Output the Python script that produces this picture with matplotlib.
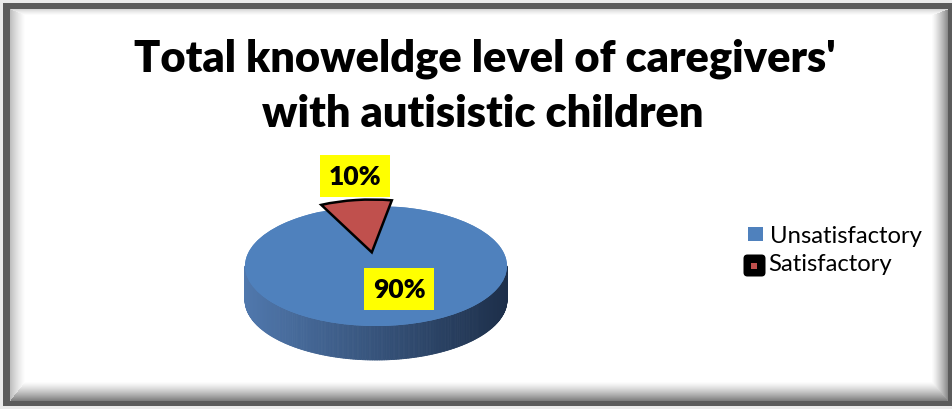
import numpy as np
import matplotlib
matplotlib.use("Agg")
import matplotlib.pyplot as plt
from matplotlib.collections import PolyCollection
from matplotlib.patches import Ellipse, Rectangle, FancyBboxPatch
from matplotlib.colors import to_rgb

# ---- data ----
categories = ["Unsatisfactory", "Satisfactory"]
percentages = [90, 10]
slice_colors = ["#4f81bd", "#c0504d"]
title_lines = ["Total knoweldge level of caregivers'", "with autisistic children"]

# ---- layout (pixels) ----
W, H = 953, 410
CX, CY = 376, 267        # centre of the pie top face
RX, RY = 131, 60         # radii of the pie top face
DEPTH = 34               # thickness of the pie
FONT = "Lato"

fig = plt.figure(figsize=(W / 100, H / 100), dpi=100)


def frame_image():
    """Grey bevelled chart border."""
    yy, xx = np.mgrid[0:H, 0:W].astype(float)
    t = np.stack([
        1 - (xx - 10) / 15,      # left
        1 - (yy - 10) / 6,       # top
        1 - (947 - xx) / 16,     # right
        1 - (401 - yy) / 19,     # bottom
    ])
    t = np.clip(t, 0, 1)
    side = t.argmax(axis=0)
    tmax = t.max(axis=0)
    dark = np.array([0.25, 0.15, 0.45, 0.5])[side]
    val = 1 - dark * tmax ** 1.3
    band = (((xx >= 3) & (xx < 10)) | ((yy >= 4) & (yy < 10)) |
            ((yy >= 402) & (yy < 407)) | ((xx >= 948) & (xx < 953)))
    band &= (xx >= 3) & (yy >= 4) & (yy < 407)
    val[band] = 0.36
    outside = (xx < 3) | (yy < 4) | (yy >= 407)
    val[outside] = 0.92
    return np.dstack([val, val, val])


fig.figimage(frame_image(), 0, 0, origin="upper", zorder=-5)

# ---- pie axes: one data unit = one radius of the top face ----
ax = fig.add_axes([0, 0, 1, 1])
ax.patch.set_alpha(0)

wedges, _ = ax.pie(percentages, colors=slice_colors, startangle=80,
                   counterclock=False, explode=[0, 0.23], radius=1,
                   center=(0, 0), wedgeprops=dict(linewidth=0))
# the detached slice sits further back, so it is drawn a little smaller
wedges[1].set_radius(0.88)
wedges[1].set_edgecolor("black")
wedges[1].set_linewidth(1.8)
for w in wedges:
    w.set_zorder(3)

ax.set_aspect("auto")
ax.set_xlim(-CX / RX, (W - CX) / RX)
ax.set_ylim((CY - H) / RY, CY / RY)
ax.axis("off")

# pie body under the top face
ax.add_patch(Ellipse((0, 0), 2, 2, facecolor=slice_colors[0],
                     edgecolor="none", zorder=2))

# front side wall with shading
d = DEPTH / RY
th = np.linspace(np.pi, 2 * np.pi, 241)
left_c = np.array(to_rgb("#5078ad"))
right_c = np.array(to_rgb("#1d2f4a"))
quads, cols = [], []
for a0, a1 in zip(th[:-1], th[1:]):
    x0, x1 = np.cos(a0), np.cos(a1)
    y0, y1 = np.sin(a0), np.sin(a1)
    quads.append([(x0, y0), (x1, y1), (x1, y1 - d), (x0, y0 - d)])
    f = ((x0 + x1) / 2 + 1) / 2
    cols.append(left_c * (1 - f) + right_c * f)
ax.add_collection(PolyCollection(quads, facecolors=cols, edgecolors=cols,
                                 linewidths=0.6, zorder=1))

# percentage labels
label_pos = [(0.176, -0.383), (-0.160, 1.500)]
for (lx, ly), v in zip(label_pos, percentages):
    ax.text(lx, ly, f"{v}%", ha="center", va="center", fontsize=19,
            fontweight="heavy", family=FONT, color="black", zorder=5,
            bbox=dict(boxstyle="square,pad=0.33", facecolor="#ffff00",
                      edgecolor="none"))

# ---- title ----
fig.text(485 / W, 1 - 72 / H, title_lines[0], ha="center", va="baseline",
         fontsize=31.2, fontweight="heavy", family=FONT)
fig.text(483 / W, 1 - 127 / H, title_lines[1], ha="center", va="baseline",
         fontsize=31.2, fontweight="heavy", family=FONT)

# ---- legend ----
lg = fig.add_axes([0, 0, 1, 1])
lg.set_xlim(0, W)
lg.set_ylim(H, 0)
lg.axis("off")
lg.patch.set_alpha(0)
lg.add_patch(Rectangle((748, 228), 15, 14, facecolor=slice_colors[0],
                       edgecolor="none"))
lg.add_patch(FancyBboxPatch((745, 257), 19, 19,
                            boxstyle="round,pad=1.5,rounding_size=4",
                            facecolor="black", edgecolor="none"))
lg.add_patch(Rectangle((751.5, 263.5), 6, 6, facecolor=slice_colors[1],
                       edgecolor="none"))
lg.text(770, 243, categories[0], ha="left", va="baseline", fontsize=17.2,
        family=FONT)
lg.text(768, 271, categories[1], ha="left", va="baseline", fontsize=17.2,
        family=FONT)

fig.savefig("out.png", dpi=100)
